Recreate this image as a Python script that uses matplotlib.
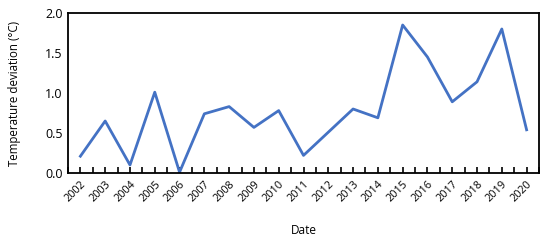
import matplotlib
matplotlib.use("Agg")
import matplotlib.pyplot as plt
import numpy as np

years = [str(y) for y in range(2002, 2021)]
deviation = [0.21, 0.65, 0.10, 1.01, 0.01, 0.74, 0.83, 0.57, 0.78, 0.22,
             0.51, 0.80, 0.69, 1.85, 1.45, 0.89, 1.14, 1.80, 0.54]

plt.rcParams['font.family'] = ['Open Sans', 'DejaVu Sans']

fig = plt.figure(figsize=(5.5, 2.41), dpi=100)
ax = fig.add_axes([68/550, 1-173/241, (539-68)/550, (173-13)/241])

x = np.arange(len(years))
ax.plot(x, deviation, color='#4472C4', lw=2)

ax.set_xlim(-0.5, len(years) - 0.5)
ax.set_ylim(0, 2.0)
ax.set_yticks([0, 0.5, 1.0, 1.5, 2.0])
ax.set_yticklabels(['0.0', '0.5', '1.0', '1.5', '2.0'], fontsize=9)
ax.set_xticks(x)
ax.set_xticklabels(years, rotation=45, ha='right', rotation_mode='anchor', fontsize=7.8)
ax.set_xticks(np.arange(-0.5, len(years)), minor=True)
ax.tick_params(axis='x', which='both', direction='in', length=4, width=1.2, pad=4)
ax.tick_params(axis='y', length=0, pad=4)

for s in ax.spines.values():
    s.set_linewidth(1.3)
    s.set_color('black')

ax.set_ylabel('Temperature deviation (°C)', fontsize=8.3)
ax.yaxis.set_label_coords(-0.1, 0.5)
fig.text((68+539)/2/550, 1-230/241, 'Date', ha='center', va='center', fontsize=8.5)

fig.savefig('out.png', dpi=100)
